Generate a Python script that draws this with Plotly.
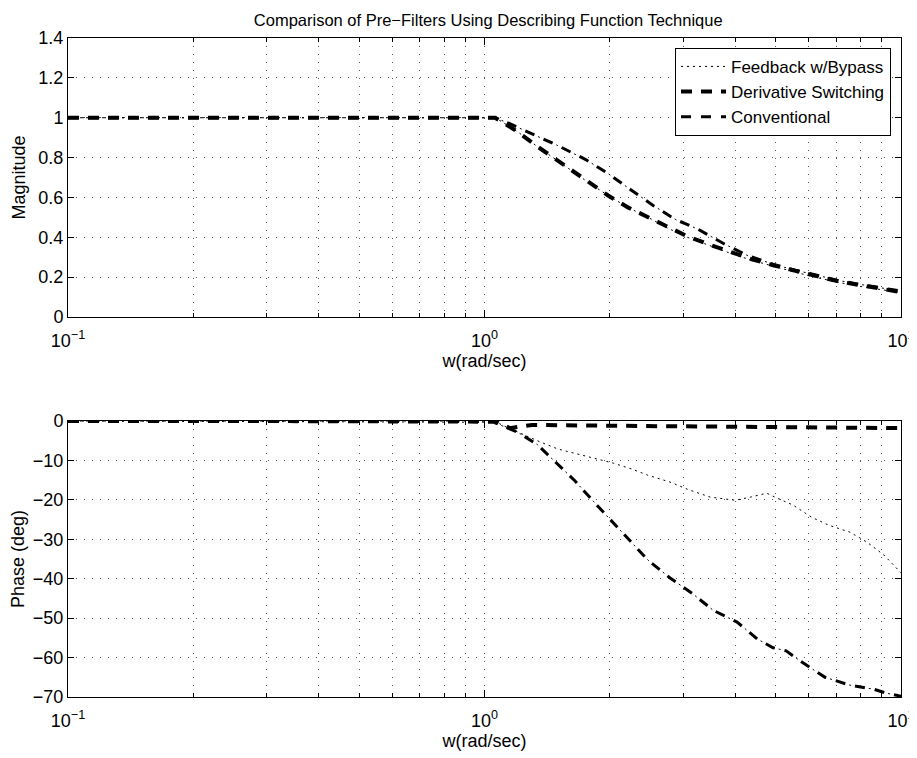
import plotly.graph_objects as go

# ---------------- data ----------------
w_mag_fb = [0.1, 1.06, 1.10, 1.2, 1.33, 1.46, 1.63, 1.79, 1.98, 2.21, 2.47, 2.76, 3.07, 3.45,
            3.89, 4.38, 4.93, 5.57, 6.28, 7.02, 7.9, 9.0, 10]
mag_fb = [1.0, 1.0, 0.98, 0.93, 0.86, 0.80, 0.73, 0.67, 0.61, 0.55, 0.50, 0.445, 0.40, 0.36,
          0.32, 0.285, 0.255, 0.225, 0.198, 0.175, 0.155, 0.137, 0.122]

w_mag_ds = [0.1, 1.06, 1.10, 1.2, 1.33, 1.46, 1.63, 1.79, 1.98, 2.21, 2.47, 2.76, 3.07, 3.45,
            3.89, 4.38, 4.93, 5.57, 6.28, 7.02, 7.9, 9.0, 10]
mag_ds = [1.0, 1.0, 0.98, 0.93, 0.86, 0.80, 0.73, 0.67, 0.61, 0.55, 0.50, 0.45, 0.405, 0.365,
          0.325, 0.29, 0.26, 0.23, 0.205, 0.18, 0.16, 0.14, 0.125]

w_mag_cv = [0.1, 1.06, 1.15, 1.27, 1.50, 1.75, 1.98, 2.24, 2.54, 2.87, 3.26, 3.74, 4.27, 4.93,
            5.57, 6.28, 7.02, 7.9, 9.0, 10]
mag_cv = [1.0, 1.0, 0.97, 0.93, 0.86, 0.79, 0.72, 0.64, 0.56, 0.49, 0.44, 0.37, 0.31, 0.265,
          0.235, 0.21, 0.185, 0.165, 0.145, 0.13]

w_ph_fb = [0.1, 1.06, 1.10, 1.25, 1.36, 1.5, 1.63, 1.83, 2.04, 2.26, 2.46, 2.79, 3.07, 3.48,
           4.0, 4.35, 4.76, 4.98, 5.5, 6.1, 6.7, 7.54, 8.28, 9.1, 9.78, 10]
ph_fb = [0, 0, -1.0, -3.6, -5.3, -7.1, -8.1, -9.4, -10.7, -12.2, -13.7, -15.5, -17.3, -19.3,
         -20.1, -19.3, -18.3, -19.3, -21.3, -24.4, -26.4, -28.2, -30.7, -34.0, -37.3, -38.5]

w_ph_ds = [0.1, 1.06, 1.15, 1.3, 2.0, 5.0, 10]
ph_ds = [0, 0, -1.8, -1.0, -1.2, -1.6, -1.8]

w_ph_cv = [0.1, 1.05, 1.2, 1.34, 1.48, 1.65, 1.83, 2.03, 2.24, 2.47, 2.79, 3.15, 3.54, 4.04,
           4.52, 4.93, 5.3, 5.79, 6.57, 7.54, 8.58, 9.2, 10]
ph_cv = [0, -0.3, -2.8, -6.0, -10.4, -15.2, -20.5, -25.6, -30.7, -35.3, -39.8, -43.7, -48.0,
         -51.0, -55.3, -57.5, -58.3, -61.2, -65.0, -67.0, -68.0, -69.0, -69.8]

series_names = ["Feedback w/Bypass", "Derivative Switching", "Conventional"]
x_tickvals = [0.1, 1, 10]
x_ticktext = ["10<sup>\u22121</sup>", "10<sup>0</sup>", "10<sup>1</sup>"]
x_minor = [0.2, 0.3, 0.4, 0.5, 0.6, 0.7, 0.8, 0.9, 2, 3, 4, 5, 6, 7, 8, 9]

title_text = "Comparison of Pre\u2212Filters Using Describing Function Technique"

# ---------------- figure ----------------
FONT = "Liberation Sans, Arial, Helvetica, sans-serif"
W, H = 909, 750   # page body has an 8px default margin
fig = go.Figure()

fb_line = dict(color="black", width=1, dash="2px,4px")
ds_line = dict(color="black", width=4, dash="11px,9px")
cv_thick = dict(color="black", width=3, dash="10px,10px")
cv_thin = dict(color="black", width=1, dash="0px,14px,2px,4px")

# magnitude
fig.add_trace(go.Scatter(x=w_mag_fb, y=mag_fb, mode="lines", line=fb_line,
                         name=series_names[0], xaxis="x", yaxis="y"))
fig.add_trace(go.Scatter(x=w_mag_ds, y=mag_ds, mode="lines", line=ds_line,
                         name=series_names[1], xaxis="x", yaxis="y"))
fig.add_trace(go.Scatter(x=w_mag_cv, y=mag_cv, mode="lines", line=cv_thick,
                         name=series_names[2], xaxis="x", yaxis="y"))
fig.add_trace(go.Scatter(x=w_mag_cv, y=mag_cv, mode="lines", line=cv_thin,
                         showlegend=False, xaxis="x", yaxis="y"))
# phase
fig.add_trace(go.Scatter(x=w_ph_fb, y=ph_fb, mode="lines", line=fb_line,
                         showlegend=False, xaxis="x2", yaxis="y2"))
fig.add_trace(go.Scatter(x=w_ph_ds, y=ph_ds, mode="lines", line=ds_line,
                         showlegend=False, xaxis="x2", yaxis="y2"))
fig.add_trace(go.Scatter(x=w_ph_cv, y=ph_cv, mode="lines", line=cv_thick,
                         showlegend=False, xaxis="x2", yaxis="y2"))
fig.add_trace(go.Scatter(x=w_ph_cv, y=ph_cv, mode="lines", line=cv_thin,
                         showlegend=False, xaxis="x2", yaxis="y2"))

grid = dict(gridcolor="#555", gridwidth=1, griddash="1px,7px")

def xaxis_cfg(anchor):
    return dict(
        type="log", range=[-1, 1], anchor=anchor, automargin=False,
        tickvals=x_tickvals, ticktext=x_ticktext, ticklabelstandoff=7,
        ticks="inside", ticklen=7, tickcolor="black", tickwidth=1,
        showline=True, linecolor="black", linewidth=1, mirror="allticks",
        showgrid=True, **grid,
        minor=dict(tickvals=x_minor, ticks="inside", ticklen=4, tickcolor="black",
                   showgrid=True, **grid),
        tickfont=dict(size=18, color="black", family=FONT),
        title=dict(text="w(rad/sec)", font=dict(size=18, color="black", family=FONT), standoff=2),
        zeroline=False,
    )

def yaxis_cfg(anchor, rng, dtick, title, domain):
    return dict(
        range=rng, dtick=dtick, anchor=anchor, domain=domain, automargin=False,
        ticks="inside", ticklen=6, tickcolor="black", tickwidth=1,
        showline=True, linecolor="black", linewidth=1, mirror="allticks",
        showgrid=True, **grid,
        tickfont=dict(size=18, color="black", family=FONT),
        title=dict(text=title, font=dict(size=18, color="black", family=FONT), standoff=8),
        zeroline=False,
    )

fig.update_layout(
    width=W, height=H,
    margin=dict(l=60, r=16, t=30, b=61, autoexpand=False),
    paper_bgcolor="white", plot_bgcolor="white",
    font=dict(family=FONT, color="black"),
    title=dict(text=title_text, x=0.5283, xanchor="center", y=1 - 12 / H, yanchor="middle",
               yref="container", automargin=False,
               font=dict(size=16.5, color="black", family=FONT)),
    xaxis=xaxis_cfg("y"),
    xaxis2=xaxis_cfg("y2"),
    yaxis=yaxis_cfg("x", [0, 1.4], 0.2, "Magnitude", [0.5766, 1.0]),
    yaxis2=yaxis_cfg("x2", [-70, 0], 10, "Phase (deg)", [0.0, 0.4188]),
    legend=dict(x=0.988, xanchor="right", y=0.985, yanchor="top",
                bgcolor="white", bordercolor="black", borderwidth=1,
                font=dict(size=17, color="black", family=FONT),
                tracegroupgap=0, itemwidth=45),
    showlegend=True,
)

fig.write_html("out.html")
